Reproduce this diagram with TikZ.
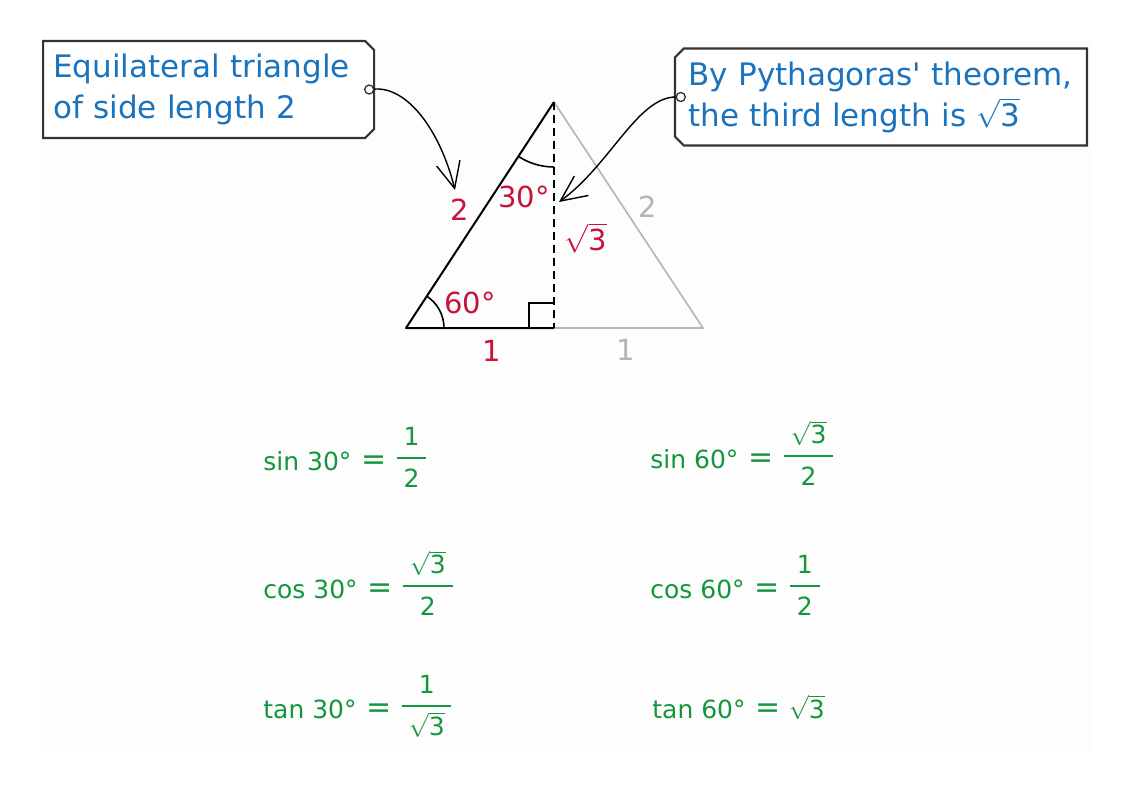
\documentclass[tikz,border=0pt]{standalone}
\usepackage{amsmath}
\usepackage{fontspec}
\setmainfont{DejaVu Sans}
\newfontfamily\handfont{DejaVu Sans}
\usepackage{xcolor}
\usepackage{tikz}
\usetikzlibrary{shapes.misc, arrows.meta}
\definecolor{noteblue}{RGB}{25,115,190}
\definecolor{labred}{RGB}{200,20,60}
\definecolor{eqgreen}{RGB}{20,150,60}
\definecolor{ghost}{RGB}{180,180,180}
\definecolor{paper}{RGB}{253,253,253}
\hyphenpenalty=10000
\newcommand{\rfrac}[2]{\genfrac{}{}{0.9pt}{0}{\mkern5mu#1\mkern5mu\rule[-3pt]{0pt}{3pt}}{\mkern5mu#2\mkern5mu\rule{0pt}{11.5pt}}}
\newcommand{\eqsign}{\hspace{5pt}\raisebox{0.5pt}{\fontsize{15}{15}\selectfont =}\hspace{4pt}}
\newcommand{\eqrhs}[1]{\eqsign\raisebox{2.9pt}{$#1$}}
\tikzstyle{note} = [chamfered rectangle, chamfered rectangle xsep=2.25pt, chamfered rectangle ysep=2.25pt, draw=black!80, line width=1.1pt, fill=white, inner xsep=2.75pt, minimum height=48.5pt, text=noteblue, align=left, font=\handfont\fontsize{15.5}{20.5}\selectfont]
\tikzstyle{pindot} = [circle, draw=black!85, line width=0.6pt, fill=white, inner sep=0pt, minimum size=4.5pt]
\tikzstyle{arrow} = [line width=0.7pt, -{Straight Barb[length=13pt,width=12pt]}]
\tikzstyle{lbl} = [text=labred, font=\fontsize{14.5}{16}\selectfont]
\tikzstyle{ghostlbl} = [text=ghost, font=\fontsize{14.5}{16}\selectfont]
\tikzstyle{eq} = [text=eqgreen, anchor=base west, inner sep=0pt, font=\fontsize{12.5}{15}\selectfont]

\begin{document}
\begin{tikzpicture}[x=0.5pt, y=-0.5pt]
   \useasboundingbox (0,0) rectangle (1130,792);
   \fill[paper] (40,40) rectangle (1092,752);
   % triangle
   \coordinate (A) at (406,328);
   \coordinate (B) at (554,102);
   \coordinate (C) at (703,328);
   \coordinate (F) at (554,328);
   \draw[ghost, line width=0.8pt] (F) -- (C) -- (B);
   \draw[line width=1pt, line join=round] (F) -- (A) -- (B);
   \draw[line width=0.8pt, dash pattern=on 4pt off 2.5pt] (B) -- (F);
   \draw[line width=0.8pt] (F) ++(-25,0) -- ++(0,-25) -- ++(25,0);
   \draw[line width=0.8pt] (A) ++(38,0) arc[start angle=0, end angle=-56.8, radius=38];
   \draw[line width=0.8pt] (B) ++(0,65) arc[start angle=90, end angle=123.2, radius=65];
   \node[lbl] (side2) at (460,210) {2};
   \node[lbl] (ang30) at (524,197) {30°};
   \node[lbl] (alt) at (586,238) {$\sqrt{\text{3}}$};
   \node[lbl] (ang60) at (470,303) {60°};
   \node[lbl] (base1) at (492,351) {1};
   \node[ghostlbl] (gside2) at (648,207) {2};
   \node[ghostlbl] (gbase1) at (626,350) {1};
   % notes
   \node[note, chamfered rectangle corners={north east,south east}, text width=155.5pt, anchor=west] (note1) at (42,89.5) {Equilateral triangle\\of side length 2};
   \node[note, chamfered rectangle corners={north west,south west}, inner xsep=4.5pt, text width=192.5pt, anchor=east] (note2) at (1088,97) {By Pythagoras' theorem,\\the third length is $\sqrt{\text{3}}$};
   \node[pindot] (pin1) at ([xshift=-3pt]note1.east) {};
   \node[pindot] (pin2) at ([xshift=3.5pt]note2.west) {};
   \coordinate (tip1) at (455,190);
   \coordinate (tip2) at (559,202);
   \draw[arrow] (pin1) .. controls +(38,-3) and +(-15,-60) .. (tip1);
   \draw[arrow] (pin2) .. controls +(-43,0) and +(51,-37) .. (tip2);
   % ratios
   \node[eq] (sin30) at (263,470) {sin 30°\eqrhs{\rfrac{\text{1}}{\text{2}}}};
   \node[eq] (sin60) at (650,468) {sin 60°\eqrhs{\rfrac{\sqrt{\text{3}}}{\text{2}}}};
   \node[eq] (cos30) at (263,598) {cos 30°\eqrhs{\rfrac{\sqrt{\text{3}}}{\text{2}}}};
   \node[eq] (cos60) at (650,598) {cos 60°\eqrhs{\rfrac{\text{1}}{\text{2}}}};
   \node[eq] (tan30) at (263,718) {tan 30°\eqrhs{\rfrac{\text{1}}{\sqrt{\text{3}}}}};
   \node[eq] (tan60) at (652,718) {tan 60°\eqsign$\sqrt{\text{3}}$};
\end{tikzpicture}
\end{document}
